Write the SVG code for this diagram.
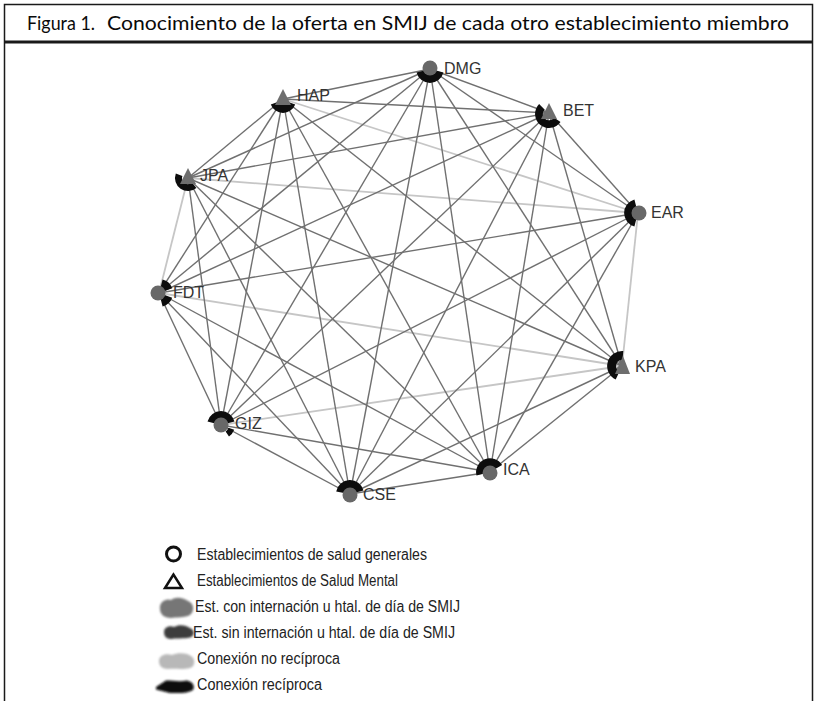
<svg xmlns="http://www.w3.org/2000/svg" width="818" height="701" viewBox="0 0 818 701">
  <style>
    .frame { fill: none; stroke: #1a1a1a; stroke-width: 1.5; }
    .title { font-family: Lato, "Liberation Sans", sans-serif; font-size: 20px; fill: #0a0a0a; }
    .d { stroke: #707070; stroke-width: 1.4; }
    .l { stroke: #c6c6c6; stroke-width: 1.8; }
    .head { fill: #0d0d0d; }
    .gen { fill: #686868; }
    .sm { fill: #6e6e6e; }
    .lbl { font-family: "Liberation Sans", Arial, sans-serif; font-size: 16px; fill: #333; }
    .leg { font-family: "Liberation Sans", Arial, sans-serif; font-size: 16px; fill: #222; }
  </style>
  <defs>
    <filter id="soft" x="-20%" y="-40%" width="140%" height="180%">
      <feGaussianBlur stdDeviation="0.9"/>
    </filter>
  </defs>

  <rect width="818" height="701" fill="#fff"/>

  <!-- frame and title bar -->
  <path class="frame" d="M4.5,701 V4.5 H812.5 V701"/>
  <line x1="4" y1="42" x2="813" y2="42" stroke="#1a1a1a" stroke-width="3"/>
  <text class="title" x="27" y="30" textLength="68" lengthAdjust="spacingAndGlyphs">Figura 1.</text>
  <text class="title" x="107" y="30" textLength="682" lengthAdjust="spacingAndGlyphs">Conocimiento de la oferta en SMIJ de cada otro establecimiento miembro</text>

  <!-- connectors -->
  <g id="connectors">
    <g id="non-reciprocal">
      <line class="l" x1="283" y1="99" x2="638" y2="213"/>
      <line class="l" x1="188" y1="178" x2="638" y2="213"/>
      <line class="l" x1="188" y1="178" x2="159" y2="293"/>
      <line class="l" x1="638" y1="213" x2="622" y2="366"/>
      <line class="l" x1="159" y1="293" x2="622" y2="366"/>
      <line class="l" x1="622" y1="366" x2="221" y2="425"/>
    </g>
    <g id="reciprocal">
      <line class="d" x1="430" y1="69" x2="283" y2="99"/>
      <line class="d" x1="430" y1="69" x2="549" y2="113"/>
      <line class="d" x1="430" y1="69" x2="188" y2="178"/>
      <line class="d" x1="430" y1="69" x2="638" y2="213"/>
      <line class="d" x1="430" y1="69" x2="159" y2="293"/>
      <line class="d" x1="430" y1="69" x2="622" y2="366"/>
      <line class="d" x1="430" y1="69" x2="221" y2="425"/>
      <line class="d" x1="430" y1="69" x2="490" y2="472"/>
      <line class="d" x1="430" y1="69" x2="350" y2="494"/>
      <line class="d" x1="283" y1="99" x2="549" y2="113"/>
      <line class="d" x1="283" y1="99" x2="188" y2="178"/>
      <line class="d" x1="283" y1="99" x2="159" y2="293"/>
      <line class="d" x1="283" y1="99" x2="622" y2="366"/>
      <line class="d" x1="283" y1="99" x2="221" y2="425"/>
      <line class="d" x1="283" y1="99" x2="490" y2="472"/>
      <line class="d" x1="283" y1="99" x2="350" y2="494"/>
      <line class="d" x1="549" y1="113" x2="188" y2="178"/>
      <line class="d" x1="549" y1="113" x2="638" y2="213"/>
      <line class="d" x1="549" y1="113" x2="159" y2="293"/>
      <line class="d" x1="549" y1="113" x2="622" y2="366"/>
      <line class="d" x1="549" y1="113" x2="221" y2="425"/>
      <line class="d" x1="549" y1="113" x2="490" y2="472"/>
      <line class="d" x1="549" y1="113" x2="350" y2="494"/>
      <line class="d" x1="188" y1="178" x2="622" y2="366"/>
      <line class="d" x1="188" y1="178" x2="221" y2="425"/>
      <line class="d" x1="188" y1="178" x2="490" y2="472"/>
      <line class="d" x1="188" y1="178" x2="350" y2="494"/>
      <line class="d" x1="638" y1="213" x2="159" y2="293"/>
      <line class="d" x1="638" y1="213" x2="221" y2="425"/>
      <line class="d" x1="638" y1="213" x2="490" y2="472"/>
      <line class="d" x1="638" y1="213" x2="350" y2="494"/>
      <line class="d" x1="159" y1="293" x2="221" y2="425"/>
      <line class="d" x1="159" y1="293" x2="490" y2="472"/>
      <line class="d" x1="159" y1="293" x2="350" y2="494"/>
      <line class="d" x1="622" y1="366" x2="490" y2="472"/>
      <line class="d" x1="622" y1="366" x2="350" y2="494"/>
      <line class="d" x1="221" y1="425" x2="490" y2="472"/>
      <line class="d" x1="221" y1="425" x2="350" y2="494"/>
      <line class="d" x1="490" y1="472" x2="350" y2="494"/>
    </g>
  </g>

  <!-- nodes: black rims are the gathered arrowheads of reciprocal ties -->
  <g id="node-DMG">
    <path class="head" d="M443.5,72.6 A14,14 0 0 1 416.5,72.6 L424.2,70.6 A6,6 0 0 0 435.8,70.6 Z"/>
    <circle class="gen" cx="430" cy="68" r="7.5"/>
    <text class="lbl" x="444" y="74">DMG</text>
  </g>
  <g id="node-HAP">
    <path class="head" d="M295.2,104.4 A13,13 0 0 1 270.8,104.4 L278.3,101.7 A5,5 0 0 0 287.7,101.7 Z"/>
    <polygon class="sm" points="283,89 275,105 291,105"/>
    <text class="lbl" x="297" y="101">HAP</text>
  </g>
  <g id="node-BET">
    <path class="head" d="M560.5,122 A14,14 0 1 1 539.1,104.1 L544.8,109.8 A6,6 0 1 0 553.9,117.4 Z"/>
    <polygon class="sm" points="549,103 541,119 557,119"/>
    <text class="lbl" x="563" y="116">BET</text>
  </g>
  <g id="node-JPA">
    <path class="head" d="M196.4,188 A13,13 0 0 1 175.8,173.6 L182.4,175.9 A6,6 0 0 0 191.9,182.6 Z"/>
    <polygon class="sm" points="188,168 180,184 196,184"/>
    <text class="lbl" x="200" y="181">JPA</text>
  </g>
  <g id="node-EAR">
    <path class="head" d="M634.4,226.5 A14,14 0 0 1 634.4,199.5 L636.4,207.2 A6,6 0 0 0 636.4,218.8 Z"/>
    <circle class="gen" cx="639" cy="213" r="7.5"/>
    <text class="lbl" x="651" y="218">EAR</text>
  </g>
  <g id="node-FDT">
    <path class="head" d="M162.6,279.5 A14,14 0 0 1 172.2,288.2 L164.6,291 A6,6 0 0 0 160.6,287.2 Z"/>
    <path class="head" d="M172.2,297.8 A14,14 0 0 1 162.6,306.5 L160.6,298.8 A6,6 0 0 0 164.6,295.1 Z"/>
    <circle class="gen" cx="158" cy="293" r="7.5"/>
    <text class="lbl" x="173" y="298">FDT</text>
  </g>
  <g id="node-KPA">
    <path class="head" d="M615.7,379.6 A15,15 0 0 1 623.3,351.1 L622.5,360 A6,6 0 0 0 619.5,371.4 Z"/>
    <polygon class="sm" points="623,356 615,374 630,374"/>
    <text class="lbl" x="635" y="372">KPA</text>
  </g>
  <g id="node-GIZ">
    <path class="head" d="M207.5,421.4 A14,14 0 0 1 234.5,421.4 L226.8,423.4 A6,6 0 0 0 215.2,423.4 Z"/>
    <path class="head" d="M234.2,429.8 A14,14 0 0 1 229,436.5 L225.6,431.6 A8,8 0 0 0 228.5,427.7 Z"/>
    <circle class="gen" cx="221" cy="425" r="7.5"/>
    <text class="lbl" x="235" y="429">GIZ</text>
  </g>
  <g id="node-ICA">
    <path class="head" d="M476.5,475.6 A14,14 0 0 1 502.1,465 L495.2,469 A6,6 0 0 0 484.2,473.6 Z"/>
    <circle class="gen" cx="490" cy="473" r="7.5"/>
    <text class="lbl" x="503" y="475">ICA</text>
  </g>
  <g id="node-CSE">
    <path class="head" d="M336.2,491.6 A14,14 0 0 1 363.5,490.4 L355.8,492.4 A6,6 0 0 0 344.1,493 Z"/>
    <circle class="gen" cx="350" cy="495" r="7.5"/>
    <text class="lbl" x="363" y="500">CSE</text>
  </g>

  <!-- legend -->
  <g id="legend">
    <circle cx="173.5" cy="554" r="7" fill="none" stroke="#111" stroke-width="3"/>
    <polygon points="173.5,574.5 165,588 182,588" fill="none" stroke="#111" stroke-width="2.5" stroke-linejoin="miter"/>
    <g filter="url(#soft)">
      <path d="M160,609 C159,602 166,598 171,600 C176,596 184,598 188,601 C194,603 195,611 190,615 C185,618 176,617 171,618 C164,618 160,614 160,609 Z" fill="#767676"/>
      <path d="M164,632 C164,627 170,625 174,627 C179,624 186,625 190,628 C195,630 195,636 190,637.5 C183,639 176,638 171,639 C166,639 164,636 164,632 Z" fill="#3e3e3e"/>
      <path d="M159,661 C159,655 166,653 172,655 C178,652 188,653 191,656 C196,659 195,667 190,668 C182,670 174,668 168,669 C161,669 159,665 159,661 Z" fill="#b8b8b8"/>
      <path d="M156,687 L166,680.5 C172,680.5 180,682 187,680.5 C193,682 195,686 193,690 C187,694 178,693 170,693 L156,689.5 Z" fill="#0a0a0a"/>
    </g>
    <text class="leg" x="197" y="560" textLength="230" lengthAdjust="spacingAndGlyphs">Establecimientos de salud generales</text>
    <text class="leg" x="197" y="586" textLength="201" lengthAdjust="spacingAndGlyphs">Establecimientos de Salud Mental</text>
    <text class="leg" x="195" y="612" textLength="265" lengthAdjust="spacingAndGlyphs">Est. con internación u htal. de día de SMIJ</text>
    <text class="leg" x="193" y="638" textLength="262" lengthAdjust="spacingAndGlyphs">Est. sin internación u htal. de día de SMIJ</text>
    <text class="leg" x="197" y="664" textLength="143" lengthAdjust="spacingAndGlyphs">Conexión no recíproca</text>
    <text class="leg" x="197" y="690" textLength="125" lengthAdjust="spacingAndGlyphs">Conexión recíproca</text>
  </g>
</svg>
